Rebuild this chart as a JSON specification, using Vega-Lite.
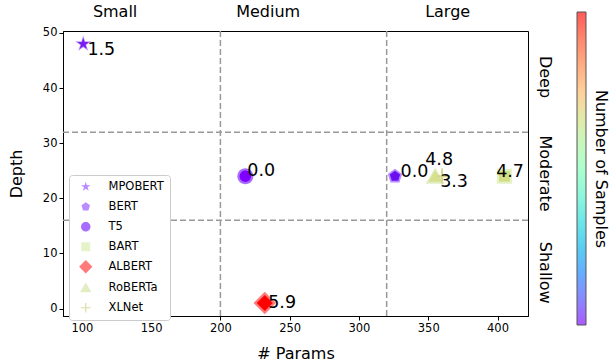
{
  "$schema": "https://vega.github.io/schema/vega-lite/v6.json",
  "width": 465,
  "height": 285,
  "autosize": {"type": "none"},
  "padding": {"left": 63, "top": 31, "right": 82, "bottom": 48},
  "background": "white",
  "config": {
    "font": "DejaVu Sans",
    "view": {"stroke": "black", "strokeWidth": 1},
    "axis": {"grid": false, "domainColor": "black", "tickColor": "black", "labelColor": "black", "titleColor": "black", "labelFontSize": 11.5, "titleFontSize": 16, "titleFontWeight": "normal", "tickSize": 4, "labelPadding": 2, "labelFont": "DejaVu Sans", "titleFont": "DejaVu Sans"},
    "legend": {"labelFontSize": 11.5, "labelFont": "DejaVu Sans", "labelColor": "black"}
  },
  "data": {"values": [
    {"model": "MPOBERT", "params": 101, "depth": 48, "samples": 1.5, "label": "1.5", "lx": 104, "ly": 46.0},
    {"model": "BERT", "params": 326, "depth": 24, "samples": 0.0, "label": "0.0", "lx": 330, "ly": 23.9},
    {"model": "T5", "params": 218, "depth": 24, "samples": 0.0, "label": "0.0", "lx": 219.4, "ly": 24.05},
    {"model": "BART", "params": 405, "depth": 24, "samples": 4.7, "label": "4.7", "lx": 399, "ly": 23.9},
    {"model": "ALBERT", "params": 232, "depth": 1, "samples": 5.9, "label": "5.9", "lx": 234.5, "ly": 0.1},
    {"model": "RoBERTa", "params": 355, "depth": 24, "samples": 4.8, "label": "4.8", "lx": 347.8, "ly": 26.0},
    {"model": "XLNet", "params": 360, "depth": 24, "samples": 3.3, "label": "3.3", "lx": 358.6, "ly": 22.05}
  ]},
  "layer": [
    {
      "data": {"values": [{"v": 200}, {"v": 320}]},
      "mark": {"type": "rule", "strokeDash": [6, 3], "color": "#999999", "strokeWidth": 1.5},
      "encoding": {"x": {"field": "v", "type": "quantitative", "title": "# Params", "scale": {"domain": [86.4, 422], "nice": false, "zero": false}}}
    },
    {
      "data": {"values": [{"v": 16}, {"v": 32}]},
      "mark": {"type": "rule", "strokeDash": [6, 3], "color": "#999999", "strokeWidth": 1.5},
      "encoding": {"y": {"field": "v", "type": "quantitative", "title": "Depth", "scale": {"domain": [-1.35, 50.35], "nice": false, "zero": false}}}
    },
    {
      "mark": {"type": "point", "filled": true, "opacity": 1, "size": 256},
      "encoding": {
        "x": {"field": "params", "type": "quantitative", "title": "# Params", "scale": {"domain": [86.4, 422], "nice": false, "zero": false}, "axis": {"values": [100, 150, 200, 250, 300, 350, 400], "titlePadding": 12}},
        "y": {"field": "depth", "type": "quantitative", "title": "Depth", "scale": {"domain": [-1.35, 50.35], "nice": false, "zero": false}, "axis": {"values": [0, 10, 20, 30, 40, 50], "titlePadding": 18}},
        "color": {"field": "model", "type": "nominal", "title": null,
          "scale": {"domain": ["MPOBERT", "BERT", "T5", "BART", "ALBERT", "RoBERTa", "XLNet"],
                    "range": ["#b98cff", "#b98cff", "#a86cff", "#e6f2c8", "#ff7a7a", "#e3edc4", "#dcdca0"]},
          "legend": {"orient": "none", "legendX": 6, "legendY": 144, "strokeColor": "#cccccc", "fillColor": "white", "cornerRadius": 3, "padding": 6, "symbolSize": 90, "labelFontSize": 11.5, "labelFont": "DejaVu Sans", "labelColor": "black", "labelOffset": 17, "symbolOffset": 5, "rowPadding": 7, "symbolStrokeWidth": 0}},
        "shape": {"field": "model", "type": "nominal", "title": null,
          "legend": {"orient": "none", "legendX": 6, "legendY": 144, "strokeColor": "#cccccc", "fillColor": "white", "cornerRadius": 3, "padding": 6, "symbolSize": 90, "labelFontSize": 11.5, "labelFont": "DejaVu Sans", "labelColor": "black", "labelOffset": 17, "symbolOffset": 5, "rowPadding": 7, "symbolStrokeWidth": 0},
          "scale": {"domain": ["MPOBERT", "BERT", "T5", "BART", "ALBERT", "RoBERTa", "XLNet"],
                    "range": [
                      "M0,-1.05L0.234,-0.322L1,-0.324L0.379,0.123L0.617,0.849L0,0.399L-0.617,0.849L-0.379,0.123L-1,-0.324L-0.234,-0.322Z",
                      "M0,-0.95L0.903,-0.294L0.559,0.769L-0.559,0.769L-0.903,-0.294Z",
                      "M1,0A1,1,0,1,1,-1,0A1,1,0,1,1,1,0Z",
                      "M-0.95,-0.95L0.95,-0.95L0.95,0.95L-0.95,0.95Z",
                      "M0,-1.4L1.4,0L0,1.4L-1.4,0Z",
                      "M0,-1.1L1.2,0.95L-1.2,0.95Z",
                      "M-1,-0.12L-0.12,-0.12L-0.12,-1L0.12,-1L0.12,-0.12L1,-0.12L1,0.12L0.12,0.12L0.12,1L-0.12,1L-0.12,0.12L-1,0.12Z"
                    ]}}
      }
    },
    {
      "mark": {"type": "point", "filled": true, "opacity": 1, "size": 130},
      "encoding": {
        "x": {"field": "params", "type": "quantitative", "title": "# Params"},
        "y": {"field": "depth", "type": "quantitative", "title": "Depth"},
        "fill": {"field": "model", "type": "nominal", "legend": null,
          "scale": {"domain": ["MPOBERT", "BERT", "T5", "BART", "ALBERT", "RoBERTa", "XLNet"],
                    "range": ["#7a1cf0", "#6a10f0", "#8000ff", "#d2de86", "#ff0000", "#d6e08e", "#cfd88a"]}},
        "shape": {"field": "model", "type": "nominal", "title": null}
      }
    },
    {
      "mark": {"type": "point", "opacity": 0, "size": 1},
      "encoding": {
        "x": {"field": "params", "type": "quantitative", "title": "# Params"},
        "y": {"field": "depth", "type": "quantitative", "title": "Depth"},
        "stroke": {"field": "samples", "type": "quantitative", "title": "Number of Samples",
          "scale": {"domain": [0, 0.75, 1.5, 2.25, 3, 3.75, 4.5, 5.25, 6],
                    "range": ["#ac59ff", "#8399fc", "#59cef2", "#83f2e3", "#acffce", "#d5f3b6", "#ffce99", "#ff997a", "#ff5959"]},
          "legend": {"orient": "none", "legendX": 514, "legendY": -19, "direction": "vertical", "gradientLength": 313, "gradientThickness": 9, "gradientStrokeColor": "#555555", "gradientStrokeWidth": 1, "labelExpr": "''", "labelFontSize": 1, "labelOffset": 0, "titleOrient": "right", "titleFontSize": 16, "titleFontWeight": "normal", "titleColor": "black", "titleFont": "DejaVu Sans", "titleAnchor": "middle", "titlePadding": 6}}
      }
    },
    {
      "mark": {"type": "text", "align": "left", "baseline": "alphabetic", "fontSize": 17.5, "color": "black", "font": "DejaVu Sans"},
      "encoding": {
        "x": {"field": "lx", "type": "quantitative", "title": "# Params"},
        "y": {"field": "ly", "type": "quantitative", "title": "Depth"},
        "text": {"field": "label"}
      }
    },
    {
      "data": {"values": [{"t": "Small", "px": 124, "py": 53.8}, {"t": "Medium", "px": 234.5, "py": 53.8}, {"t": "Large", "px": 364, "py": 53.8}]},
      "mark": {"type": "text", "align": "center", "baseline": "middle", "fontSize": 16, "color": "black", "font": "DejaVu Sans"},
      "encoding": {
        "x": {"field": "px", "type": "quantitative", "title": "# Params"},
        "y": {"field": "py", "type": "quantitative", "title": "Depth"},
        "text": {"field": "t"}
      }
    },
    {
      "data": {"values": [{"t": "Deep", "px": 434.2, "py": 42}, {"t": "Moderate", "px": 434.2, "py": 24.5}, {"t": "Shallow", "px": 434.2, "py": 6.5}]},
      "mark": {"type": "text", "align": "center", "baseline": "middle", "fontSize": 16, "color": "black", "angle": 90, "font": "DejaVu Sans"},
      "encoding": {
        "x": {"field": "px", "type": "quantitative", "title": "# Params"},
        "y": {"field": "py", "type": "quantitative", "title": "Depth"},
        "text": {"field": "t"}
      }
    }
  ]
}
